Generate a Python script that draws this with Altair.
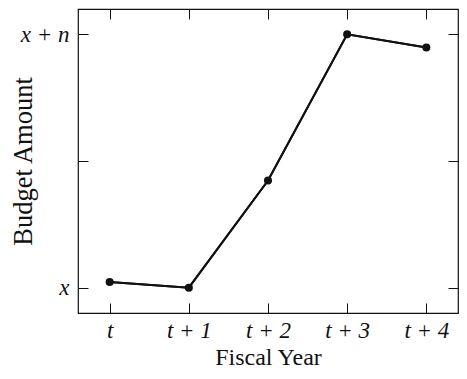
import altair as alt
import pandas as pd

years = ["t", "t + 1", "t + 2", "t + 3", "t + 4"]
year_index = [0, 1, 2, 3, 4]
budget = [0.022, 0.0, 0.423, 1.0, 0.948]
y_ticks = [0, 0.5, 1]
y_tick_labels = ["x", "", "x + n"]

df = pd.DataFrame({"i": year_index, "budget": budget})

FONT = "Liberation Serif"
INK = "#111111"
W, H = 380, 304

x_expr = "[" + ",".join("'%s'" % s for s in years) + "][round(datum.value)]"
y_expr = "[" + ",".join("'%s'" % s for s in y_tick_labels) + "][round(datum.value*2)]"

xs = alt.Scale(domain=[-0.4, 4.4], nice=False, zero=False)
ys = alt.Scale(domain=[-0.1, 1.1], nice=False, zero=False)

common = dict(domain=False, grid=False, offset=-10, tickSize=10, tickColor=INK,
              tickWidth=1)

x_bottom = alt.Axis(orient="bottom", values=year_index, labelExpr=x_expr,
                    labelFont=FONT, labelFontStyle="italic", labelFontSize=23,
                    labelColor=INK, labelPadding=6, title="Fiscal Year",
                    titleFont=FONT, titleFontSize=24, titleFontWeight="normal",
                    titleColor=INK, titlePadding=3, **common)
y_left = alt.Axis(orient="left", values=y_ticks, labelExpr=y_expr,
                  labelFont=FONT, labelFontStyle="italic", labelFontSize=23,
                  labelColor=INK, labelPadding=9, title="Budget Amount",
                  titleFont=FONT, titleFontSize=26.5, titleFontWeight="normal",
                  titleColor=INK, titleAngle=270, titleBaseline="bottom",
                  titleAlign="center", titleX=-50.5, titleY=H / 2, **common)
x_top = alt.Axis(orient="top", values=year_index, labels=False, title=None, **common)
y_right = alt.Axis(orient="right", values=y_ticks, labels=False, title=None, **common)

line = alt.Chart(df).mark_line(color=INK, strokeWidth=2).encode(
    x=alt.X("i:Q", scale=xs, axis=x_bottom),
    y=alt.Y("budget:Q", scale=ys, axis=y_left),
)
frame = alt.Chart(df).mark_line(color=INK, strokeWidth=2).encode(
    x=alt.X("i:Q", scale=xs, axis=x_top),
    y=alt.Y("budget:Q", scale=ys, axis=y_right),
)
points = alt.Chart(df).mark_circle(size=65, color=INK, opacity=1).encode(
    x=alt.X("i:Q", scale=xs, axis=None),
    y=alt.Y("budget:Q", scale=ys, axis=None),
)

chart = alt.layer(line, frame, points).resolve_axis(
    x="independent", y="independent"
).properties(
    width=W, height=H,
    autosize=alt.AutoSizeParams(type="none"),
    padding={"left": 70, "top": 1, "right": 1, "bottom": 57},
).configure_view(stroke=INK, strokeWidth=1.2)

chart.save("out.html", embed_options={"renderer": "svg", "actions": False})
